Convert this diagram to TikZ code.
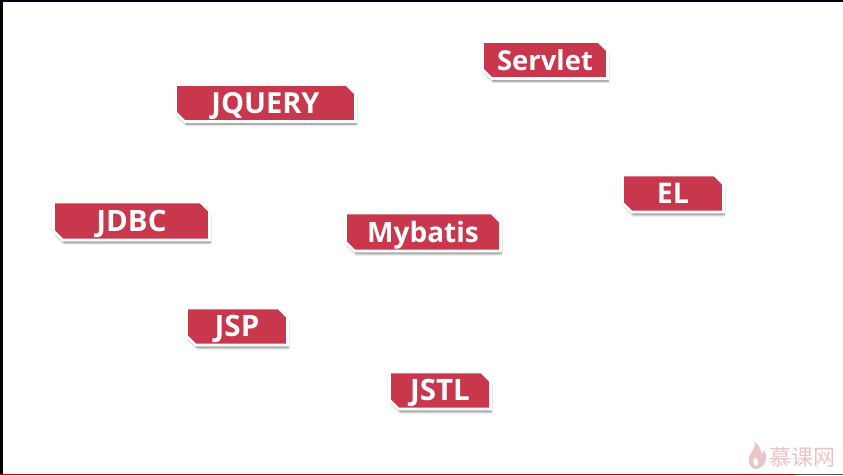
\documentclass[tikz,border=0pt]{standalone}
\usepackage{fontspec}
\setmainfont{Open Sans}
\newfontfamily\cjkfont{Noto Sans CJK SC}
\usetikzlibrary{shapes.misc,shadows}
\definecolor{tagred}{HTML}{C8374B}
\definecolor{markpink}{HTML}{EDC4C6}
\tikzset{
  tag/.style={chamfered rectangle, chamfered rectangle corners={north east,south west},
    chamfered rectangle xsep=4.5pt, chamfered rectangle ysep=4.5pt,
    fill=tagred, draw=white, line width=2.8pt, inner sep=0pt, text=white,
    text height=20pt, text depth=0pt,
    font=\fontsize{#1}{30}\selectfont\bfseries,
    general shadow={shadow xshift=-1.8pt, shadow yshift=-1pt, fill=black, opacity=.08},
    general shadow={shadow xshift=1.2pt, shadow yshift=-4.6pt, fill=black, opacity=.10},
    general shadow={shadow xshift=1.9pt, shadow yshift=-3.4pt, fill=black, opacity=.24}}
}
\begin{document}
\begin{tikzpicture}[x=1pt,y=-1pt]
\useasboundingbox (0,0) rectangle (843,475);
\fill[white] (0,0) rectangle (843,475);
\fill[black] (0,0) rectangle (3,475);
\fill[black!90!blue] (0,0) rectangle (843,2);
\fill[red!80!black] (0,473.5) rectangle (795,475);
\fill[black!70] (795,473.5) rectangle (843,475);
\node[tag=29, minimum width=180pt, minimum height=37pt] (jquery) at (265.5,103) {JQUERY};
\node[tag=27.4, minimum width=125pt, minimum height=37pt] (servlet) at (545,60) {Servlet};
\node[tag=28.5, minimum width=101pt, minimum height=37pt] (el) at (673,193.5) {EL};
\node[tag=29.5, minimum width=156pt, minimum height=38pt] (jdbc) at (131.5,221) {JDBC};
\node[tag=28, minimum width=155pt, minimum height=38pt] (mybatis) at (423,232) {Mybatis};
\node[tag=29.5, minimum width=101pt, minimum height=37pt] (jsp) at (237,326.5) {JSP};
\node[tag=29.5, minimum width=101pt, minimum height=37pt] (jstl) at (440,390.5) {JSTL};
% watermark
\fill[markpink] (756,469) .. controls (746,467) and (748,456) .. (752,452)
  .. controls (754,449) and (755,446) .. (755,442)
  .. controls (760,446) and (761,450) .. (761,454)
  .. controls (763,453) and (764,451) .. (764,450)
  .. controls (768,456) and (767,467) .. (756,469) -- cycle;
\fill[white] (756,466) .. controls (753,465) and (752,461) .. (755,457)
  .. controls (758,460) and (760,464) .. (756,466) -- cycle;
\node[text=markpink, font=\cjkfont\fontsize{22}{24}\selectfont, inner sep=0pt] (mark) at (802,457) {慕课网};
\end{tikzpicture}
\end{document}
